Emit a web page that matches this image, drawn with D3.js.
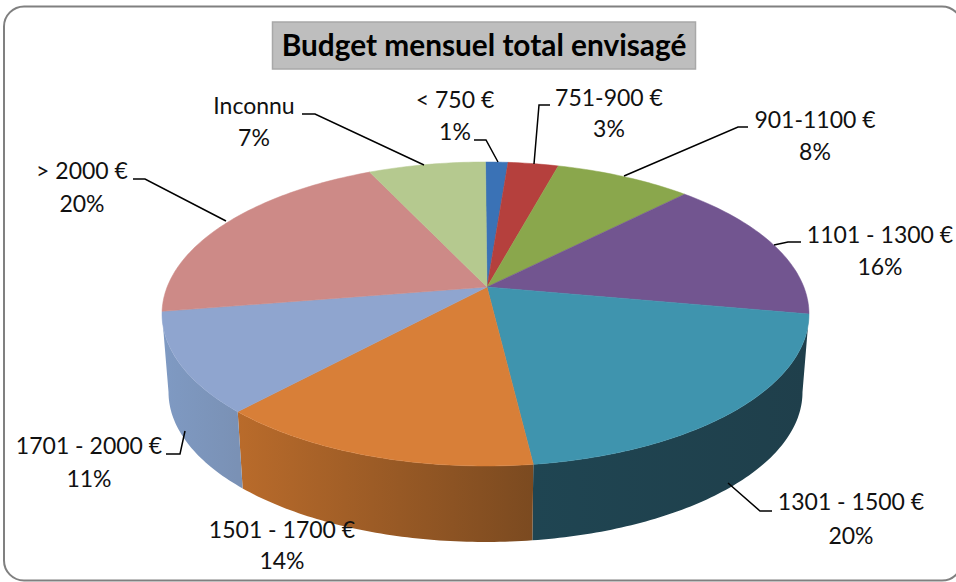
<!DOCTYPE html>
<html><head><meta charset="utf-8">
<script src="https://cdn.jsdelivr.net/npm/d3@7/dist/d3.min.js"></script>
<style>html,body{margin:0;padding:0;background:#fff}svg{display:block}</style>
</head><body><svg id="c" width="956" height="582"></svg>
<script>
const title = "Budget mensuel total envisagé";
const categories = ["< 750 €","751-900 €","901-1100 €","1101 - 1300 €","1301 - 1500 €","1501 - 1700 €","1701 - 2000 €","> 2000 €","Inconnu"];
const percents = [1,3,8,16,20,14,11,20,7];
const topColors = ["#3a72b6","#b5403d","#8aa74c","#725590","#3f94ae","#d87f38","#8fa5cf","#cd8a87","#b5c98f"];
const wallFrom = {"1301 - 1500 €":"#1f4552","1501 - 1700 €":"#b96b2b","1701 - 2000 €":"#7f9ac3"};
const wallTo   = {"1301 - 1500 €":"#1f3f4b","1501 - 1700 €":"#7b4a20","1701 - 2000 €":"#7a91b5"};
// Where each label and leader sits on the page
const labelLayout = [
 {cx:455,y1:108,y2:140,leader:[[474,140],[486,140],[498,162]]},
 {cx:609,y1:106,y2:137,leader:[[550,105],[539,105],[534,164]]},
 {cx:815,y1:128,y2:160,leader:[[748,127],[738,127],[624,176]]},
 {cx:880,y1:243,y2:275,leader:[[801,242],[788,242],[774,245]]},
 {cx:851,y1:510,y2:544,leader:[[728,483],[760,511],[772,511]]},
 {cx:282,y1:538,y2:569,leader:null},
 {cx:89, y1:454,y2:487,leader:[[166,454],[180,454],[185,431]]},
 {cx:82, y1:179,y2:212,leader:[[133,179],[145,179],[226,221]]},
 {cx:254,y1:114,y2:146,leader:[[302,114],[315,114],[424,165]]}
];
// Perspective of the tilted disc: cumulative share (%) -> angle on the rim (deg)
const shareStops = [0,1,4,12,28,48,62,73,93,100];
const rimStops   = [0,4,13,38,90,171.5,230,271,339,360];
const rimScale = d3.scaleLinear().domain(shareStops).range(rimStops);

const apex = {x:487,y:287};
const top_ = {cx:485.5,cy:314,rx:323.5,ry:152};
const bot_ = {cx:485.5,cy:392,rx:317,ry:150};
const rad = d => d*Math.PI/180;
const onRim = (e,deg) => [e.cx+e.rx*Math.sin(rad(deg)), e.cy-e.ry*Math.cos(rad(deg))];
const degs = (a,b) => { const n=Math.max(2,Math.ceil(Math.abs(b-a)));return d3.range(n+1).map(i=>a+(b-a)*i/n); };
const line = d3.line();

const svg = d3.select("#c");
const defs = svg.append("defs");
svg.append("rect").attr("x",4).attr("y",6.5).attr("width",958).attr("height",574)
  .attr("rx",20).attr("fill","#fff").attr("stroke","#808080").attr("stroke-width",2);

const pie = d3.pie().sort(null).value(d=>d)(percents);
const total = d3.sum(percents);
const toShare = a => a/(2*Math.PI)*total;
const slices = pie.map((p,i)=>({
  name:categories[i], color:topColors[i],
  a0:rimScale(toShare(p.startAngle)), a1:rimScale(toShare(p.endAngle)), i
}));

// Walls
const walls = slices.map(s=>({...s,w0:Math.max(s.a0,90),w1:Math.min(s.a1,270)})).filter(s=>s.w1>s.w0);
walls.forEach(s=>{
  const [x0]=onRim(top_,s.w1), [x1]=onRim(top_,s.w0);
  const g=defs.append("linearGradient").attr("id","w"+s.i).attr("gradientUnits","userSpaceOnUse")
    .attr("x1",x0).attr("x2",x1).attr("y1",0).attr("y2",0);
  g.append("stop").attr("offset",0).attr("stop-color",wallFrom[s.name]);
  g.append("stop").attr("offset",1).attr("stop-color",wallTo[s.name]);
});
svg.append("g").selectAll("path").data(walls).join("path")
  .attr("fill",s=>`url(#w${s.i})`)
  .attr("d",s=>{
    const t=degs(s.w0,s.w1).map(a=>onRim(top_,a));
    const b=degs(s.w0,s.w1).reverse().map(a=>onRim(bot_,a));
    return line(t.concat(b))+"Z";
  });

// Top face
svg.append("g").selectAll("path").data(slices).join("path")
  .attr("fill",s=>s.color).attr("stroke",s=>s.color).attr("stroke-width",0.5)
  .attr("d",s=>line([[apex.x,apex.y]].concat(degs(s.a0,s.a1).map(a=>onRim(top_,a))))+"Z");

// Leaders
svg.append("g").selectAll("path").data(labelLayout.filter(d=>d.leader)).join("path")
  .attr("d",d=>line(d.leader)).attr("fill","none").attr("stroke","#000").attr("stroke-width",1.5);

// Labels
const lab = svg.append("g").attr("font-family","Lato, 'Open Sans', sans-serif").attr("font-size",23).attr("fill","#111").attr("text-anchor","middle");
labelLayout.forEach((d,i)=>{
  lab.append("text").attr("x",d.cx).attr("y",d.y1).text(categories[i]);
  lab.append("text").attr("x",d.cx).attr("y",d.y2).text(percents[i]+"%");
});

// Title
svg.append("rect").attr("x",272.5).attr("y",22).attr("width",423).attr("height",47)
  .attr("fill","#bebebe").attr("stroke","#a8a8a8").attr("stroke-width",1.5);
svg.append("text").attr("x",484).attr("y",56).attr("text-anchor","middle")
  .attr("font-family","Lato, 'Open Sans', sans-serif").attr("font-weight",700).attr("font-size",29.8)
  .attr("fill","#000").text(title);
</script></body></html>
